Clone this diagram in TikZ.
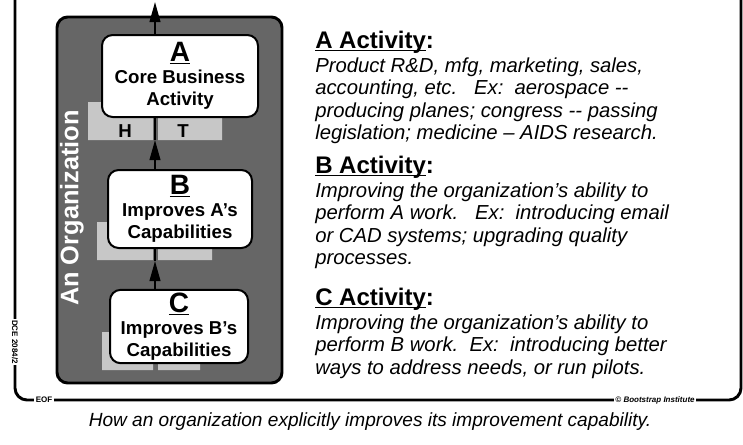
\documentclass[tikz,border=0pt]{standalone}
\usepackage{fontspec}
\setmainfont{Liberation Sans}
\usetikzlibrary{arrows.meta}
\tikzset{
  every picture/.style={font={\fontsize{14}{16.5}\selectfont}, >={Triangle[length=15pt,width=8pt]}},
  every node/.style={inner sep=0pt}}
\newcommand{\activityhead}[1]{{\fontsize{18}{20}\selectfont\bfseries\upshape\underline{#1}:}}

\begin{document}
\begin{tikzpicture}[x=0.75pt, y=-0.75pt,
    org/.style={
      draw, line width=2.2pt, fill=black!60,
      rounded corners=8pt,
      minimum width=168.75pt, minimum height=274.5pt},
    activity/.style={
      draw, line width=1.5pt, fill=white,
      rounded corners=8pt, align=center,
      font={\fontsize{14}{16.5}\selectfont\bfseries}},
    strip/.style={fill=black!22},
    shelf/.style={font={\fontsize{14}{14}\selectfont\bfseries}},
    section/.style={
      anchor=north west, align=left,
      font={\fontsize{15.2}{16.6}\selectfont\itshape}},
    flow/.style={->, line width=1.5pt},
    tag/.style={fill=white, inner sep=1pt, font={\fontsize{6}{6}\selectfont\bfseries}}]

    \useasboundingbox (0,0) rectangle (743,444);

    \draw[line width=2.2pt, rounded corners=9pt] (15,0) |- (741,400) -- (741,0);
    \node[tag] (eofLabel) at (44,400) {EOF};
    \node[tag, rotate=-90] (dceLabel) at (15,342) {DCE 2084/2};
    \node[tag, font={\fontsize{6}{6}\selectfont\bfseries\itshape}] (bootLabel) at (655,400)
      {\textcopyright\ Bootstrap Institute};

    \node[org] (org) at (169.5,200) {};
    \node[rotate=90, text=white, font={\fontsize{19}{19}\selectfont\bfseries}]
      (orgLabel) at (72,208) {An Organization};

    \fill[strip] (88,102) rectangle (153,140) (158,102) rectangle (222,140);
    \fill[strip] (97,222) rectangle (153,260) (158,222) rectangle (212,260);
    \fill[strip] (102,332) rectangle (153,370) (158,332) rectangle (200,370);
    \node[shelf] (hLabel) at (125,131) {H};
    \node[shelf] (tLabel) at (183,131) {T};

    \node[activity, minimum width=117pt, minimum height=61.5pt] (aBox) at (180,76)
      {\underline{\fontsize{21}{16.5}\selectfont A}\\Core Business\\Activity};
    \node[activity, minimum width=108pt, minimum height=58.5pt] (bBox) at (180,209)
      {\underline{\fontsize{21}{16.5}\selectfont B}\\Improves A's\\Capabilities};
    \node[activity, minimum width=103.5pt, minimum height=55pt] (cBox) at (179,326.5)
      {\underline{\fontsize{21}{16.5}\selectfont C}\\Improves B's\\Capabilities};

    \coordinate (spine) at (155,2);
    \coordinate (aGap) at (155,140);
    \coordinate (bGap) at (155,261);
    \draw[flow] (aBox.north -| spine) -- (spine);
    \draw[flow] (bBox.north -| spine) -- (aGap);
    \draw[line width=1.5pt] (aGap) -- (aBox.south -| spine);
    \draw[flow] (cBox.north -| spine) -- (bGap);
    \draw[line width=1.5pt] (bGap) -- (bBox.south -| spine);

    \node[section] (aText) at (315,31) {
      \activityhead{A Activit\smash{y}}\\[1.5pt]
      Product R\&D, mfg, marketing, sales,\\
      accounting, etc.\ \ \ Ex:\ \ aerospace -{}-\\
      producing planes; congress -{}- passing\\
      legislation; medicine -- AIDS research.};
    \node[section] (bText) at (315,156) {
      \activityhead{B Activit\smash{y}}\\[1.5pt]
      Improving the organization's ability to\\
      perform A work.\ \ \ Ex:\ \ introducing email\\
      or CAD systems; upgrading quality\\
      processes.};
    \node[section] (cText) at (315,288) {
      \activityhead{C Activit\smash{y}}\\[1.5pt]
      Improving the organization's ability to\\
      perform B work.\ \ Ex:\ \ introducing better\\
      ways to address needs, or run pilots.};

    \node[font={\fontsize{14.3}{16}\selectfont\itshape}] (caption) at (370,422)
      {How an organization explicitly improves its improvement capability.};
  \end{tikzpicture}
\end{document}
